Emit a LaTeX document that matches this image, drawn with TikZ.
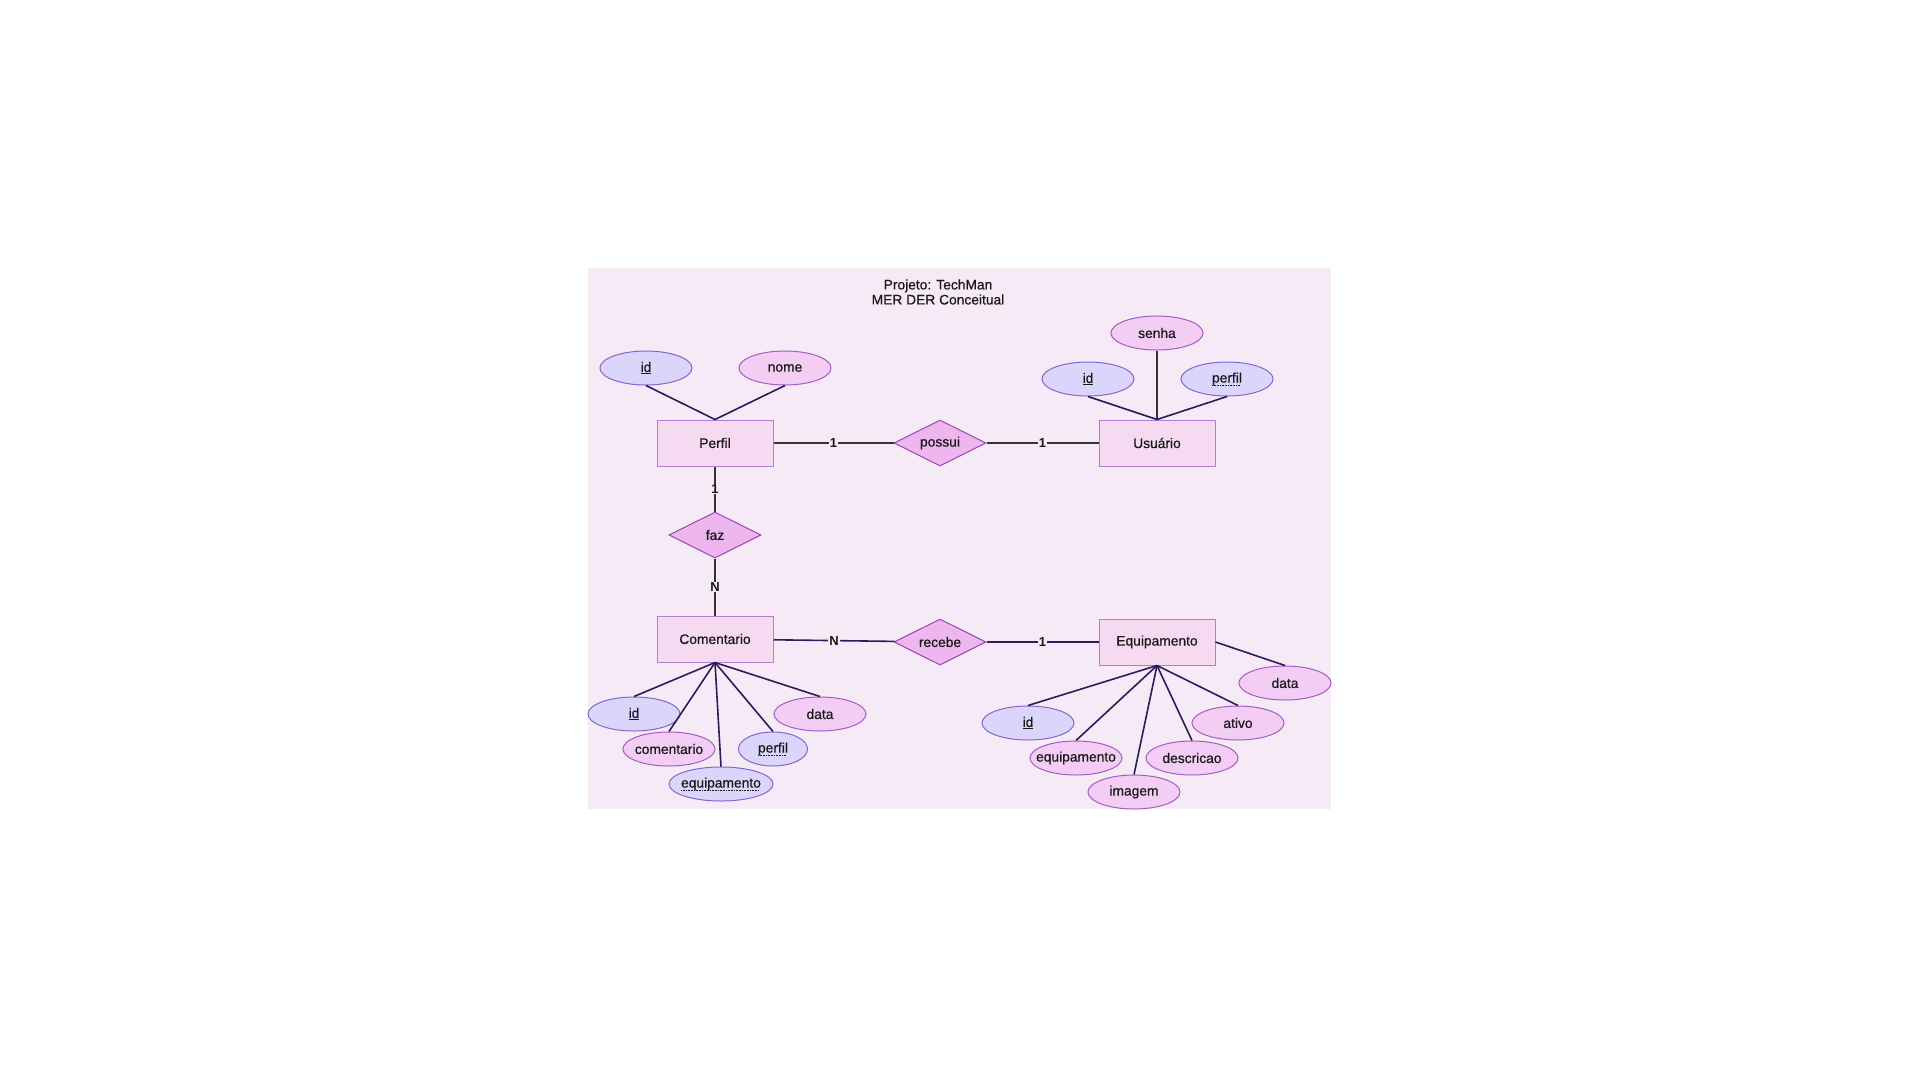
\documentclass[tikz,border=0pt]{standalone}
\usepackage{fontspec}
\setmainfont{Liberation Sans}
\newfontfamily\diagfont{Liberation Sans}[FakeBold=0.6]
\usepackage{tikz}
\usetikzlibrary{shapes.geometric}

\definecolor{bgpink}{HTML}{F6EAF6}
\definecolor{entfill}{HTML}{F5DAF1}
\definecolor{entdraw}{HTML}{B47CD4}
\definecolor{attrpink}{HTML}{F4CDF4}
\definecolor{attrpinkdraw}{HTML}{A45CC4}
\definecolor{attrlav}{HTML}{DCD5FB}
\definecolor{attrlavdraw}{HTML}{8466CC}
\definecolor{relfill}{HTML}{EEB6EE}
\definecolor{reldraw}{HTML}{9848B0}
\definecolor{linkcol}{HTML}{2D1B5A}

\newcommand{\atx}[1]{\makebox[0pt]{#1}}
\newcommand{\dotul}[1]{\leavevmode\setbox0\hbox{#1}\rlap{\raisebox{-2.8pt}{\hbox to \wd0{\leaders\hbox to 1.6pt{\vrule width 0.8pt height 0.6pt\hss}\hfil}}}\box0}

\begin{document}
\begin{tikzpicture}[x=1pt,y=-1pt,
    every node/.style={font=\diagfont\fontsize{13.8}{15}\selectfont,text=black!90},
    entity/.style={draw=entdraw,fill=entfill,line width=1pt,minimum width=116pt,minimum height=46pt},
    attr/.style={ellipse,draw=attrpinkdraw,fill=attrpink,line width=1pt,inner sep=0pt,minimum width=92pt,minimum height=34pt},
    keyattr/.style={attr,draw=attrlavdraw,fill=attrlav},
    rel/.style={diamond,draw=reldraw,fill=relfill,line width=1pt,inner sep=0pt,aspect=2,minimum width=92pt,minimum height=46pt},
    link/.style={draw=linkcol,line width=1.6pt},
    relline/.style={draw=black!80,line width=1.2pt},
    card/.style={fill=bgpink,inner sep=1pt,font=\fontsize{13}{15}\selectfont\bfseries}]
\useasboundingbox (0,0) rectangle (1920,1080);
\fill[bgpink] (588,268) rectangle (1331,809);

\node[align=center] (titulo) at (938,292) {Projeto: TechMan\\MER DER Conceitual};

\node[entity] (perfil) at (715,443) {Perfil};
\node[entity] (usuario) at (1157,443) {Usuário};
\node[entity] (comentario) at (715,639) {Comentario};
\node[entity] (equipamento) at (1157,642) {Equipamento};

\node[rel] (possui) at (940,443) {possui};
\node[rel] (faz) at (715,535) {faz};
\node[rel] (recebe) at (940,642) {recebe};

\node[keyattr] (pid) at (646,368) {\atx{\underline{id}}};
\node[attr] (pnome) at (785,368) {\atx{nome}};

\node[attr] (usenha) at (1157,333) {\atx{senha}};
\node[keyattr] (uid) at (1088,379) {\atx{\underline{id}}};
\node[keyattr] (uperfil) at (1227,379) {\atx{\dotul{perfil}}};

\node[keyattr] (cid) at (634,714) {\atx{\underline{id}}};
\node[attr] (ccoment) at (669,749) {\atx{comentario}};
\node[keyattr,minimum width=104pt] (cequip) at (721,784) {\atx{\dotul{equipamento}}};
\node[keyattr,minimum width=69pt] (cperfil) at (773,749) {\atx{\dotul{perfil}}};
\node[attr] (cdata) at (820,714) {\atx{data}};

\node[attr] (edata) at (1285,683) {\atx{data}};
\node[keyattr] (eid) at (1028,723) {\atx{\underline{id}}};
\node[attr] (eativo) at (1238,723) {\atx{ativo}};
\node[attr] (eequip) at (1076,758) {\atx{equipamento}};
\node[attr] (edesc) at (1192,758) {\atx{descricao}};
\node[attr] (eimagem) at (1134,792) {\atx{imagem}};

\draw[link] (pid.south) -- (perfil.north);
\draw[link] (pnome.south) -- (perfil.north);

\draw[relline] (usenha.south) -- (usuario.north);
\draw[link] (uid.south) -- (usuario.north);
\draw[link] (uperfil.south) -- (usuario.north);

\draw[link] (comentario.south) -- (cid.north);
\draw[link] (comentario.south) -- (ccoment.north);
\draw[link] (comentario.south) -- (cequip.north);
\draw[link] (comentario.south) -- (cperfil.north);
\draw[link] (comentario.south) -- (cdata.north);

\draw[link] (equipamento.east) -- (edata.north);
\draw[link] (equipamento.south) -- (eid.north);
\draw[link] (equipamento.south) -- (eequip.north);
\draw[link] (equipamento.south) -- (eimagem.north);
\draw[link] (equipamento.south) -- (edesc.north);
\draw[link] (equipamento.south) -- (eativo.north);

\draw[relline] (perfil) -- node[card] {1} (possui);
\draw[relline] (possui) -- node[card] {1} (usuario);
\draw[relline] (perfil) -- node[card] {1} (faz);
\draw[relline] (faz) -- node[card] {N} (comentario);
\draw[link] (comentario) -- node[card] {N} (recebe);
\draw[link] (recebe) -- node[card] {1} (equipamento);
\end{tikzpicture}
\end{document}
